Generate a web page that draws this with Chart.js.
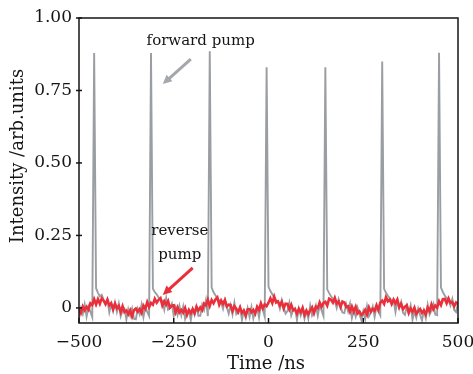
<!DOCTYPE html>
<html>
<head>
<meta charset="utf-8">
<script src="https://cdn.jsdelivr.net/npm/chart.js@4.4.1/dist/chart.umd.min.js"></script>
<style>
  body { margin: 0; background: #fff; }
  #wrap { width: 473px; height: 374px; }
</style>
</head>
<body>
<div id="wrap"><canvas id="pulse-chart"></canvas></div>
<script>
// sample times, ns
const timeNs = [
  -500,-495,-490,-485,-480,-475,-470,-465,-460,-455,
  -450,-445,-440,-435,-430,-425,-420,-415,-410,-405,
  -400,-395,-390,-385,-380,-375,-370,-365,-360,-355,
  -350,-345,-340,-335,-330,-325,-320,-315,-310,-305,
  -300,-295,-290,-285,-280,-275,-270,-265,-260,-255,
  -250,-245,-240,-235,-230,-225,-220,-215,-210,-205,
  -200,-195,-190,-185,-180,-175,-170,-165,-160,-155,
  -150,-145,-140,-135,-130,-125,-120,-115,-110,-105,
  -100,-95,-90,-85,-80,-75,-70,-65,-60,-55,
  -50,-45,-40,-35,-30,-25,-20,-15,-10,-5,
  0,5,10,15,20,25,30,35,40,45,
  50,55,60,65,70,75,80,85,90,95,
  100,105,110,115,120,125,130,135,140,145,
  150,155,160,165,170,175,180,185,190,195,
  200,205,210,215,220,225,230,235,240,245,
  250,255,260,265,270,275,280,285,290,295,
  300,305,310,315,320,325,330,335,340,345,
  350,355,360,365,370,375,380,385,390,395,
  400,405,410,415,420,425,430,435,440,445,
  450,455,460,465,470,475,480,485,490,495,
  500
];

// reverse pump (red)
const reversePump = [
  -0.003,-0.017,0.005,-0.008,0.004,-0.006,0.016,0.010,0.030,0.012,
  0.030,0.014,0.033,0.025,0.013,0.029,0.009,0.016,-0.004,0.015,
  -0.001,0.007,-0.014,0.006,-0.014,-0.009,-0.022,-0.008,-0.029,-0.008,
  -0.002,-0.013,-0.004,-0.017,0.008,-0.003,0.020,0.003,0.017,0.011,
  0.031,0.018,0.028,0.034,0.008,0.023,0.011,0.024,0.001,0.008,
  0.009,-0.015,0.002,-0.016,-0.007,-0.016,0.000,-0.024,-0.007,-0.018,
  -0.004,-0.018,0.004,-0.009,0.002,-0.008,0.015,0.009,0.028,0.007,
  0.027,0.016,0.029,0.036,0.011,0.026,0.014,0.027,0.005,0.011,
  0.010,-0.011,0.006,-0.003,-0.015,0.002,-0.017,-0.009,-0.026,-0.005,
  -0.004,-0.015,-0.007,-0.020,0.004,-0.007,0.016,-0.001,0.012,0.006,
  0.018,0.033,0.017,0.039,0.019,0.023,0.009,0.021,-0.002,0.015,
  0.014,-0.005,0.011,-0.008,-0.004,-0.020,-0.003,-0.015,0.000,-0.024,
  -0.009,-0.022,-0.009,0.002,-0.018,0.004,-0.001,0.019,0.004,0.017,
  0.021,0.008,0.032,0.028,0.018,0.035,0.015,0.022,0.003,0.022,
  0.019,0.003,0.006,-0.013,0.005,-0.013,0.004,-0.019,-0.012,-0.024,
  -0.018,-0.007,-0.023,0.002,-0.013,-0.003,-0.010,0.009,-0.007,0.018,
  0.025,0.014,0.037,0.023,0.029,0.013,0.029,0.016,0.029,0.003,
  0.014,-0.004,0.004,0.009,-0.017,-0.002,-0.013,0.001,-0.020,-0.011,
  -0.004,-0.017,-0.009,-0.023,0.001,-0.011,0.012,-0.005,0.008,0.001,
  0.023,0.010,0.030,0.031,0.016,0.033,0.018,0.020,0.006,0.019,
  0.014
];

// forward pump (gray)
const forwardPump = [
  -0.038,-0.002,-0.021,0.012,-0.030,0.004,-0.013,-0.032,0.879,0.068,
  0.052,0.040,0.045,0.028,0.013,0.028,-0.015,0.014,-0.012,0.019,
  -0.014,0.015,-0.029,-0.010,-0.003,-0.040,-0.004,-0.027,-0.002,-0.037,
  -0.039,-0.003,-0.022,0.011,-0.032,0.002,-0.014,-0.028,0.879,0.066,
  0.055,0.047,0.036,0.030,0.025,-0.006,0.034,-0.006,0.000,0.015,
  -0.028,0.001,-0.024,0.007,-0.025,0.005,-0.038,-0.017,-0.009,-0.042,
  -0.004,-0.024,0.005,-0.027,-0.027,0.011,-0.007,0.027,-0.028,0.885,
  0.070,0.054,0.044,0.033,0.026,0.020,-0.003,0.027,0.003,-0.020,
  0.009,-0.022,0.018,-0.022,-0.015,0.001,-0.041,-0.011,-0.034,-0.001,
  -0.031,0.003,-0.036,-0.011,0.001,-0.033,0.012,-0.006,-0.030,0.830,
  0.073,0.058,0.047,0.035,0.027,0.020,-0.003,0.027,0.003,-0.020,
  -0.011,0.018,-0.026,-0.007,-0.001,-0.041,-0.002,-0.026,-0.001,-0.037,
  -0.011,-0.037,0.008,-0.026,-0.013,0.009,-0.027,0.009,-0.009,-0.028,
  0.830,0.064,0.051,0.040,0.031,0.024,0.000,0.030,0.006,-0.016,
  -0.018,0.013,-0.012,0.015,-0.035,-0.008,-0.030,0.001,-0.022,-0.042,
  -0.011,-0.039,0.006,-0.029,-0.016,0.005,-0.031,0.005,-0.013,-0.026,
  0.850,0.066,0.052,0.042,0.033,0.025,0.027,-0.014,0.024,-0.001,
  0.021,-0.017,-0.024,0.007,-0.018,0.009,-0.040,-0.012,-0.034,-0.002,
  -0.024,-0.043,-0.009,-0.035,0.011,-0.023,-0.009,0.013,-0.023,-0.025,
  0.880,0.070,0.055,0.043,0.034,0.026,0.008,0.031,-0.007,-0.014,
  0.016
];

const xTicks = [-500, -250, 0, 250, 500];
const yTicks = [0, 0.25, 0.5, 0.75, 1];

// labels and arrows, in data units
const notes = [
  { text: 'forward pump', x: -179, y: 0.92 },
  { text: 'reverse', x: -234, y: 0.266 },
  { text: 'pump', x: -234, y: 0.183 }
];
const arrows = [
  { from: [-205, 0.858], to: [-279, 0.772], color: '#a4a7ab' },
  { from: [-200, 0.138], to: [-279, 0.045], color: '#ea2f3b' }
];

const serif = '"DejaVu Serif", serif';
const ink = '#151515';

const framePlugin = {
  id: 'frame',
  afterDraw(chart) {
    const ctx = chart.ctx;
    const a = chart.chartArea;
    const xs = chart.scales.x, ys = chart.scales.y;
    ctx.save();
    ctx.strokeStyle = ink;
    ctx.lineWidth = 1.5;
    ctx.strokeRect(a.left, a.top, a.right - a.left, a.bottom - a.top);

    xTicks.forEach(v => {
      const px = xs.getPixelForValue(v);
      ctx.beginPath(); ctx.moveTo(px, a.bottom); ctx.lineTo(px, a.bottom - 5); ctx.stroke();
    });
    yTicks.forEach(v => {
      const py = ys.getPixelForValue(v);
      ctx.beginPath(); ctx.moveTo(a.left - 3, py); ctx.lineTo(a.left + 3, py); ctx.stroke();
    });

    // axis titles
    ctx.fillStyle = ink;
    ctx.font = '18px ' + serif;
    ctx.textAlign = 'center';
    ctx.textBaseline = 'middle';
    ctx.fillText('Time /ns', 266, 364);
    ctx.save();
    ctx.translate(18, 156);
    ctx.rotate(-Math.PI / 2);
    ctx.fillText('Intensity /arb.units', 0, 0);
    ctx.restore();

    ctx.font = '15px ' + serif;
    notes.forEach(n => {
      ctx.fillText(n.text, xs.getPixelForValue(n.x), ys.getPixelForValue(n.y));
    });

    arrows.forEach(ar => {
      const x0 = xs.getPixelForValue(ar.from[0]), y0 = ys.getPixelForValue(ar.from[1]);
      const x1 = xs.getPixelForValue(ar.to[0]), y1 = ys.getPixelForValue(ar.to[1]);
      const ang = Math.atan2(y1 - y0, x1 - x0);
      const head = 10;
      ctx.strokeStyle = ar.color;
      ctx.fillStyle = ar.color;
      ctx.lineWidth = 3;
      ctx.beginPath();
      ctx.moveTo(x0, y0);
      ctx.lineTo(x1 - Math.cos(ang) * head * 0.8, y1 - Math.sin(ang) * head * 0.8);
      ctx.stroke();
      ctx.beginPath();
      ctx.moveTo(x1, y1);
      ctx.lineTo(x1 - head * Math.cos(ang - 0.45), y1 - head * Math.sin(ang - 0.45));
      ctx.lineTo(x1 - head * Math.cos(ang + 0.45), y1 - head * Math.sin(ang + 0.45));
      ctx.closePath();
      ctx.fill();
    });
    ctx.restore();
  }
};

new Chart(document.getElementById('pulse-chart'), {
  type: 'line',
  data: {
    labels: timeNs,
    datasets: [
      {
        label: 'reverse pump',
        data: reversePump,
        borderColor: '#ea2f3b',
        borderWidth: 2.6,
        pointRadius: 0,
        tension: 0,
        order: 0
      },
      {
        label: 'forward pump',
        data: forwardPump,
        borderColor: '#9a9da1',
        borderWidth: 1.9,
        pointRadius: 0,
        tension: 0,
        order: 1
      }
    ]
  },
  options: {
    responsive: true,
    maintainAspectRatio: false,
    animation: false,
    events: [],
    layout: { padding: { top: 18, right: 15, left: 0, bottom: 0 } },
    plugins: { legend: { display: false }, tooltip: { enabled: false } },
    scales: {
      x: {
        type: 'linear',
        min: -500,
        max: 500,
        afterFit: s => { s.height = 51; s.paddingLeft = 0; s.paddingRight = 0; },
        afterBuildTicks: s => { s.ticks = xTicks.map(v => ({ value: v })); },
        grid: { display: false, drawTicks: false },
        border: { display: false },
        ticks: {
          padding: 9,
          maxRotation: 0,
          color: ink,
          font: { family: serif, size: 17 },
          callback: v => String(v).replace('-', '\u2212')
        }
      },
      y: {
        min: -0.052,
        max: 1,
        afterFit: s => { s.width = 79; s.paddingTop = 0; s.paddingBottom = 0; },
        afterBuildTicks: s => { s.ticks = yTicks.map(v => ({ value: v })); },
        grid: { display: false, drawTicks: false },
        border: { display: false },
        ticks: {
          padding: 7,
          color: ink,
          font: { family: serif, size: 17 },
          callback: v => v === 0 ? '0' : v.toFixed(2)
        }
      }
    }
  },
  plugins: [framePlugin]
});
</script>
</body>
</html>
